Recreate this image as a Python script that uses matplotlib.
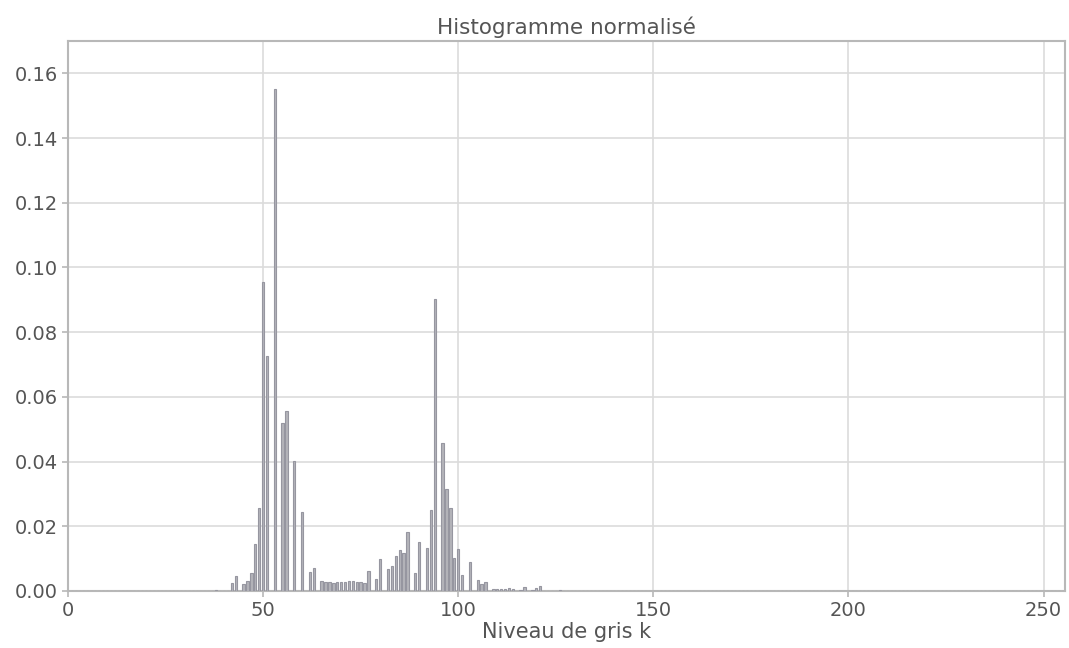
import matplotlib
matplotlib.use("Agg")
import matplotlib.pyplot as plt
import numpy as np

# grey levels with a non-zero count, and their normalised frequency
levels = [38, 42, 43, 45, 46, 47, 48, 49, 50, 51, 53, 55, 56, 58, 60, 62, 63,
          65, 66, 67, 68, 69, 70, 71, 72, 73, 74, 75, 76, 77, 79, 80,
          82, 83, 84, 85, 86, 87, 89, 90, 92, 93, 94, 96, 97, 98, 99, 100, 101,
          103, 105, 106, 107, 109, 110, 111, 112, 113, 114, 116, 117, 119, 120, 121, 126]
freq = [0.0003, 0.0024, 0.0045, 0.0022, 0.0030, 0.0055, 0.0145, 0.0255, 0.0955, 0.0725,
        0.1553, 0.0518, 0.0556, 0.0402, 0.0243, 0.0058, 0.0070,
        0.0032, 0.0029, 0.0027, 0.0026, 0.0028, 0.0029, 0.0029, 0.0030, 0.0031, 0.0029,
        0.0027, 0.0025, 0.0063, 0.0038, 0.0099,
        0.0068, 0.0078, 0.0108, 0.0128, 0.0118, 0.0182, 0.0057, 0.0150, 0.0133, 0.0250,
        0.0902, 0.0457, 0.0316, 0.0255, 0.0102, 0.0130, 0.0048,
        0.0090, 0.0034, 0.0022, 0.0029, 0.0006, 0.0006, 0.0007, 0.0005, 0.0010, 0.0007,
        0.0004, 0.0011, 0.0004, 0.0009, 0.0016, 0.0003]

hist = np.zeros(256)
hist[levels] = freq

txt = "#555555"
fig = plt.figure(figsize=(10.69, 6.48), dpi=100)
ax = fig.add_axes([0.0636, 0.088, 0.9327, 0.8487])

ax.bar(np.arange(256), hist, width=0.6, color="#b4b4ba", edgecolor="#9696a0", linewidth=0.8, zorder=3)

ax.set_xlim(0, 255.5)
ax.set_ylim(0, 0.17)
ax.set_xticks(range(0, 251, 50))
ax.set_yticks(np.arange(0, 0.161, 0.02))
ax.set_yticklabels([f"{v:.2f}" for v in np.arange(0, 0.161, 0.02)])
ax.grid(True, color="#dcdcdc", linewidth=1.2, zorder=0)
for s in ax.spines.values():
    s.set_color("#b8b8b8")
    s.set_linewidth(1.5)
ax.tick_params(colors="#b8b8b8", labelcolor=txt, labelsize=14, length=4, width=1.2)

ax.set_title("Histogramme normalisé", fontsize=15.5, color=txt, pad=5)
ax.set_xlabel("Niveau de gris k", fontsize=15, color=txt, labelpad=1)

fig.savefig("out.png", dpi=100)
